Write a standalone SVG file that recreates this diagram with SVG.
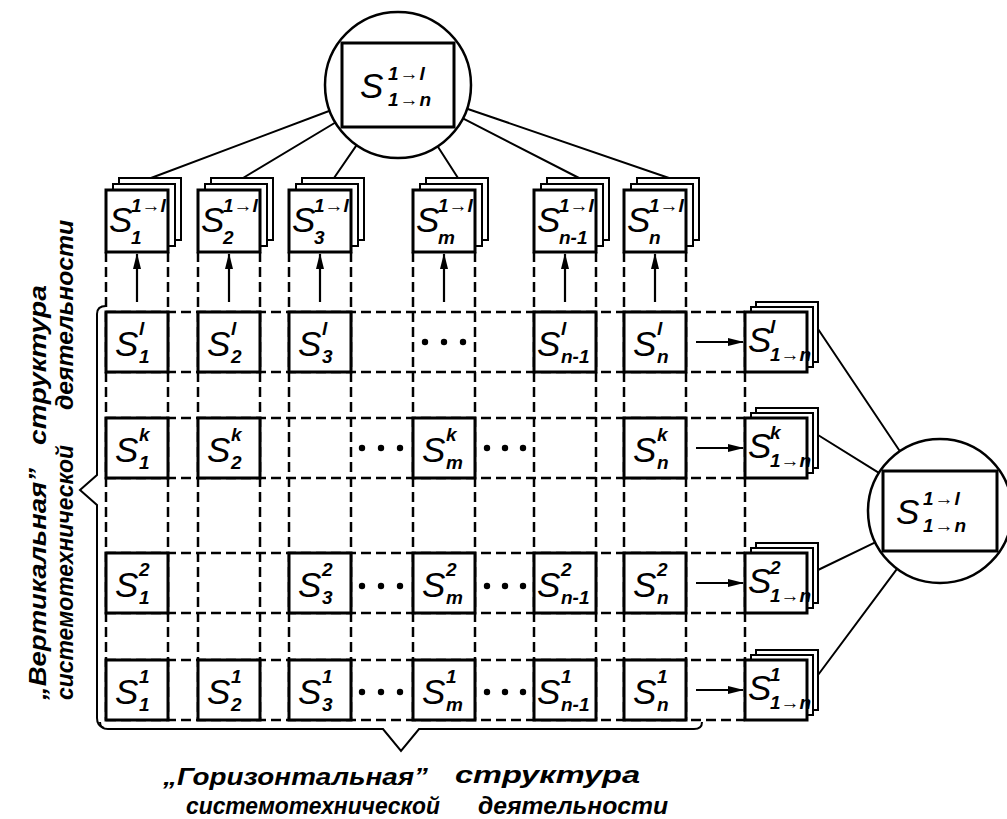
<svg xmlns="http://www.w3.org/2000/svg" width="1007" height="819" viewBox="0 0 1007 819">
<style>
.bg{fill:#fff}
.box{fill:#fff;stroke:#000;stroke-width:3}
.lay{fill:#fff;stroke:#000;stroke-width:2}
.dash{fill:none;stroke:#000;stroke-width:2.5;stroke-dasharray:10 5}
.ln{fill:none;stroke:#000;stroke-width:2}
.arr{fill:none;stroke:#000;stroke-width:2.2}
.circ{fill:#fff;stroke:#000;stroke-width:2.5}
.S{font-family:"Liberation Sans","DejaVu Sans",sans-serif;font-style:italic;font-size:35px}
.sm{font-family:"Liberation Sans","DejaVu Sans",sans-serif;font-style:italic;font-weight:bold;font-size:19px}
.cap{font-family:"Liberation Sans","DejaVu Sans",sans-serif;font-style:italic;font-weight:bold;font-size:24px}
.dot{fill:#000}
</style>
<defs>
<marker id="ah" markerWidth="16" markerHeight="8" refX="15" refY="4" orient="auto" markerUnits="userSpaceOnUse"><path d="M0,0 L16,4 L0,8 z" fill="#000"/></marker>
</defs>
<rect class="bg" x="0" y="0" width="1007" height="819"/>

<g id="grid">
<path class="dash" d="M106 252V720M168 252V720M198 252V720M260 252V720M289 252V720M351 252V720M413 252V720M475 252V720M534 252V720M596 252V720M624 252V720M686 252V720M745 312V720"/>
<path class="dash" d="M106 312H745M106 372H745M106 418H745M106 478H745M106 553H745M106 613H745M106 660H745M106 720H745"/>
</g>

<g id="connectors">
<path class="ln" d="M329.7 110.7L151 178M335.4 122.5L243 178M356.6 145.1L334 178M437.6 146.3L458 178M462.9 118.4L579 178M467.1 108.7L669 178"/>
<path class="ln" d="M818 329L899.9 451.2M818 435L878.9 472.9M818 570L875.2 542.3M818 675L897 568.8"/>
<path class="arr" marker-end="url(#ah)" d="M137 302V254"/>
<path class="arr" marker-end="url(#ah)" d="M229 302V254"/>
<path class="arr" marker-end="url(#ah)" d="M320 302V254"/>
<path class="arr" marker-end="url(#ah)" d="M444 302V254"/>
<path class="arr" marker-end="url(#ah)" d="M565 302V254"/>
<path class="arr" marker-end="url(#ah)" d="M655 302V254"/>
<path class="arr" marker-end="url(#ah)" d="M696 342H743"/>
<path class="arr" marker-end="url(#ah)" d="M696 448H743"/>
<path class="arr" marker-end="url(#ah)" d="M696 583H743"/>
<path class="arr" marker-end="url(#ah)" d="M696 690H743"/>
</g>

<g id="braces">
<path class="ln" stroke-width="2.5" d="M106 306Q97 306 97 314V475L80 490L97 505V718Q97 726 104 728"/>
<path class="ln" stroke-width="2.5" d="M100 722Q100 729 108 729H383L401 751L419 729H694Q702 729 702 722"/>
</g>

<g id="top-circle">
<circle class="circ" cx="398" cy="85" r="73"/>
<rect class="box" x="342" y="43" width="112" height="84"/>
<text class="S" x="360" y="98" font-size="40">S<tspan class="sm" x="388" y="80" font-size="23" letter-spacing="1">1→l</tspan><tspan class="sm" x="388" y="106" font-size="23" letter-spacing="1">1→n</tspan></text>
</g>

<g id="right-circle">
<circle class="circ" cx="940" cy="511" r="72"/>
<rect class="box" x="883" y="471" width="114" height="80"/>
<text class="S" x="896" y="524" font-size="38">S<tspan class="sm" x="923" y="505" font-size="23" letter-spacing="1">1→l</tspan><tspan class="sm" x="923" y="532" font-size="23" letter-spacing="1">1→n</tspan></text>
</g>

<g id="top1"><rect class="lay" x="119" y="178" width="62" height="62"/><rect class="lay" x="113" y="184" width="62" height="62"/><rect class="box" x="106" y="190" width="62" height="62"/><text class="S" x="109" y="232" font-size="32">S<tspan class="sm" x="131" y="212" font-size="18">1→l</tspan><tspan class="sm" x="131" y="244" font-size="18">1</tspan></text></g>
<g id="top2"><rect class="lay" x="211" y="178" width="62" height="62"/><rect class="lay" x="205" y="184" width="62" height="62"/><rect class="box" x="198" y="190" width="62" height="62"/><text class="S" x="201" y="232" font-size="32">S<tspan class="sm" x="223" y="212" font-size="18">1→l</tspan><tspan class="sm" x="223" y="244" font-size="18">2</tspan></text></g>
<g id="top3"><rect class="lay" x="302" y="178" width="62" height="62"/><rect class="lay" x="296" y="184" width="62" height="62"/><rect class="box" x="289" y="190" width="62" height="62"/><text class="S" x="292" y="232" font-size="32">S<tspan class="sm" x="314" y="212" font-size="18">1→l</tspan><tspan class="sm" x="314" y="244" font-size="18">3</tspan></text></g>
<g id="topm"><rect class="lay" x="426" y="178" width="62" height="62"/><rect class="lay" x="420" y="184" width="62" height="62"/><rect class="box" x="413" y="190" width="62" height="62"/><text class="S" x="416" y="232" font-size="32">S<tspan class="sm" x="438" y="212" font-size="18">1→l</tspan><tspan class="sm" x="438" y="244" font-size="18">m</tspan></text></g>
<g id="topn1"><rect class="lay" x="547" y="178" width="62" height="62"/><rect class="lay" x="541" y="184" width="62" height="62"/><rect class="box" x="534" y="190" width="62" height="62"/><text class="S" x="537" y="232" font-size="32">S<tspan class="sm" x="559" y="212" font-size="18">1→l</tspan><tspan class="sm" x="559" y="244" font-size="18">n-1</tspan></text></g>
<g id="topn"><rect class="lay" x="637" y="178" width="62" height="62"/><rect class="lay" x="631" y="184" width="62" height="62"/><rect class="box" x="624" y="190" width="62" height="62"/><text class="S" x="627" y="232" font-size="32">S<tspan class="sm" x="649" y="212" font-size="18">1→l</tspan><tspan class="sm" x="649" y="244" font-size="18">n</tspan></text></g>

<g id="l1"><rect class="box" x="106" y="312" width="62" height="60"/><text class="S" x="115" y="356">S<tspan class="sm" x="139" y="335">l</tspan><tspan class="sm" x="139" y="363">1</tspan></text></g>
<g id="l2"><rect class="box" x="198" y="312" width="62" height="60"/><text class="S" x="207" y="356">S<tspan class="sm" x="231" y="335">l</tspan><tspan class="sm" x="231" y="363">2</tspan></text></g>
<g id="l3"><rect class="box" x="289" y="312" width="62" height="60"/><text class="S" x="298" y="356">S<tspan class="sm" x="322" y="335">l</tspan><tspan class="sm" x="322" y="363">3</tspan></text></g>
<g id="ldots"><circle class="dot" cx="425" cy="342" r="3.2"/><circle class="dot" cx="444" cy="342" r="3.2"/><circle class="dot" cx="463" cy="342" r="3.2"/></g>
<g id="ln1"><rect class="box" x="534" y="312" width="62" height="60"/><text class="S" x="537" y="356">S<tspan class="sm" x="561" y="335">l</tspan><tspan class="sm" x="561" y="363">n-1</tspan></text></g>
<g id="ln"><rect class="box" x="624" y="312" width="62" height="60"/><text class="S" x="633" y="356">S<tspan class="sm" x="657" y="335">l</tspan><tspan class="sm" x="657" y="363">n</tspan></text></g>

<g id="k1"><rect class="box" x="106" y="418" width="62" height="60"/><text class="S" x="115" y="462">S<tspan class="sm" x="139" y="441">k</tspan><tspan class="sm" x="139" y="469">1</tspan></text></g>
<g id="k2"><rect class="box" x="198" y="418" width="62" height="60"/><text class="S" x="207" y="462">S<tspan class="sm" x="231" y="441">k</tspan><tspan class="sm" x="231" y="469">2</tspan></text></g>
<g id="kdots1"><circle class="dot" cx="362" cy="448" r="3.2"/><circle class="dot" cx="381" cy="448" r="3.2"/><circle class="dot" cx="400" cy="448" r="3.2"/></g>
<g id="km"><rect class="box" x="413" y="418" width="62" height="60"/><text class="S" x="422" y="462">S<tspan class="sm" x="446" y="441">k</tspan><tspan class="sm" x="446" y="469">m</tspan></text></g>
<g id="kdots2"><circle class="dot" cx="487" cy="448" r="3.2"/><circle class="dot" cx="505" cy="448" r="3.2"/><circle class="dot" cx="523" cy="448" r="3.2"/></g>
<g id="kn"><rect class="box" x="624" y="418" width="62" height="60"/><text class="S" x="633" y="462">S<tspan class="sm" x="657" y="441">k</tspan><tspan class="sm" x="657" y="469">n</tspan></text></g>

<g id="r2c1"><rect class="box" x="106" y="553" width="62" height="60"/><text class="S" x="115" y="597">S<tspan class="sm" x="139" y="576">2</tspan><tspan class="sm" x="139" y="604">1</tspan></text></g>
<g id="r2c3"><rect class="box" x="289" y="553" width="62" height="60"/><text class="S" x="298" y="597">S<tspan class="sm" x="322" y="576">2</tspan><tspan class="sm" x="322" y="604">3</tspan></text></g>
<g id="r2dots1"><circle class="dot" cx="362" cy="586" r="3.2"/><circle class="dot" cx="381" cy="586" r="3.2"/><circle class="dot" cx="400" cy="586" r="3.2"/></g>
<g id="r2cm"><rect class="box" x="413" y="553" width="62" height="60"/><text class="S" x="422" y="597">S<tspan class="sm" x="446" y="576">2</tspan><tspan class="sm" x="446" y="604">m</tspan></text></g>
<g id="r2dots2"><circle class="dot" cx="487" cy="586" r="3.2"/><circle class="dot" cx="505" cy="586" r="3.2"/><circle class="dot" cx="523" cy="586" r="3.2"/></g>
<g id="r2cn1"><rect class="box" x="534" y="553" width="62" height="60"/><text class="S" x="537" y="597">S<tspan class="sm" x="561" y="576">2</tspan><tspan class="sm" x="561" y="604">n-1</tspan></text></g>
<g id="r2cn"><rect class="box" x="624" y="553" width="62" height="60"/><text class="S" x="633" y="597">S<tspan class="sm" x="657" y="576">2</tspan><tspan class="sm" x="657" y="604">n</tspan></text></g>

<g id="r1c1"><rect class="box" x="106" y="660" width="62" height="60"/><text class="S" x="115" y="704">S<tspan class="sm" x="139" y="683">1</tspan><tspan class="sm" x="139" y="711">1</tspan></text></g>
<g id="r1c2"><rect class="box" x="198" y="660" width="62" height="60"/><text class="S" x="207" y="704">S<tspan class="sm" x="231" y="683">1</tspan><tspan class="sm" x="231" y="711">2</tspan></text></g>
<g id="r1c3"><rect class="box" x="289" y="660" width="62" height="60"/><text class="S" x="298" y="704">S<tspan class="sm" x="322" y="683">1</tspan><tspan class="sm" x="322" y="711">3</tspan></text></g>
<g id="r1dots1"><circle class="dot" cx="362" cy="692" r="3.2"/><circle class="dot" cx="381" cy="692" r="3.2"/><circle class="dot" cx="400" cy="692" r="3.2"/></g>
<g id="r1cm"><rect class="box" x="413" y="660" width="62" height="60"/><text class="S" x="422" y="704">S<tspan class="sm" x="446" y="683">1</tspan><tspan class="sm" x="446" y="711">m</tspan></text></g>
<g id="r1dots2"><circle class="dot" cx="487" cy="692" r="3.2"/><circle class="dot" cx="505" cy="692" r="3.2"/><circle class="dot" cx="523" cy="692" r="3.2"/></g>
<g id="r1cn1"><rect class="box" x="534" y="660" width="62" height="60"/><text class="S" x="537" y="704">S<tspan class="sm" x="561" y="683">1</tspan><tspan class="sm" x="561" y="711">n-1</tspan></text></g>
<g id="r1cn"><rect class="box" x="624" y="660" width="62" height="60"/><text class="S" x="633" y="704">S<tspan class="sm" x="657" y="683">1</tspan><tspan class="sm" x="657" y="711">n</tspan></text></g>

<g id="rl"><rect class="lay" x="756" y="302" width="62" height="60"/><rect class="lay" x="751" y="307" width="62" height="60"/><rect class="box" x="745" y="312" width="62" height="60"/><text class="S" x="748" y="352" font-size="32">S<tspan class="sm" x="770" y="333">l</tspan><tspan class="sm" x="770" y="361" font-size="16">1→n</tspan></text></g>
<g id="rk"><rect class="lay" x="756" y="408" width="62" height="60"/><rect class="lay" x="751" y="413" width="62" height="60"/><rect class="box" x="745" y="418" width="62" height="60"/><text class="S" x="748" y="458" font-size="32">S<tspan class="sm" x="770" y="439">k</tspan><tspan class="sm" x="770" y="467" font-size="16">1→n</tspan></text></g>
<g id="r2"><rect class="lay" x="756" y="543" width="62" height="60"/><rect class="lay" x="751" y="548" width="62" height="60"/><rect class="box" x="745" y="553" width="62" height="60"/><text class="S" x="748" y="593" font-size="32">S<tspan class="sm" x="770" y="574">2</tspan><tspan class="sm" x="770" y="602" font-size="16">1→n</tspan></text></g>
<g id="r1"><rect class="lay" x="756" y="650" width="62" height="60"/><rect class="lay" x="751" y="655" width="62" height="60"/><rect class="box" x="745" y="660" width="62" height="60"/><text class="S" x="748" y="700" font-size="32">S<tspan class="sm" x="770" y="681">1</tspan><tspan class="sm" x="770" y="709" font-size="16">1→n</tspan></text></g>

<g id="vertical-caption">
<text class="cap" transform="translate(46,700) rotate(-90)" textLength="232" lengthAdjust="spacingAndGlyphs">„Вертикальная”</text>
<text class="cap" transform="translate(46,445) rotate(-90)" textLength="160" lengthAdjust="spacingAndGlyphs">структура</text>
<text class="cap" transform="translate(73,700) rotate(-90)" textLength="255" lengthAdjust="spacingAndGlyphs">системотехнической</text>
<text class="cap" transform="translate(73,410) rotate(-90)" textLength="190" lengthAdjust="spacingAndGlyphs">деятельности</text>
</g>

<g id="horizontal-caption">
<text class="cap" x="163" y="785" textLength="265" lengthAdjust="spacingAndGlyphs">„Горизонтальная”</text>
<text class="cap" x="455" y="783" textLength="185" lengthAdjust="spacingAndGlyphs">структура</text>
<text class="cap" x="186" y="814" textLength="254" lengthAdjust="spacingAndGlyphs">системотехнической</text>
<text class="cap" x="478" y="814" textLength="190" lengthAdjust="spacingAndGlyphs">деятельности</text>
</g>
</svg>
